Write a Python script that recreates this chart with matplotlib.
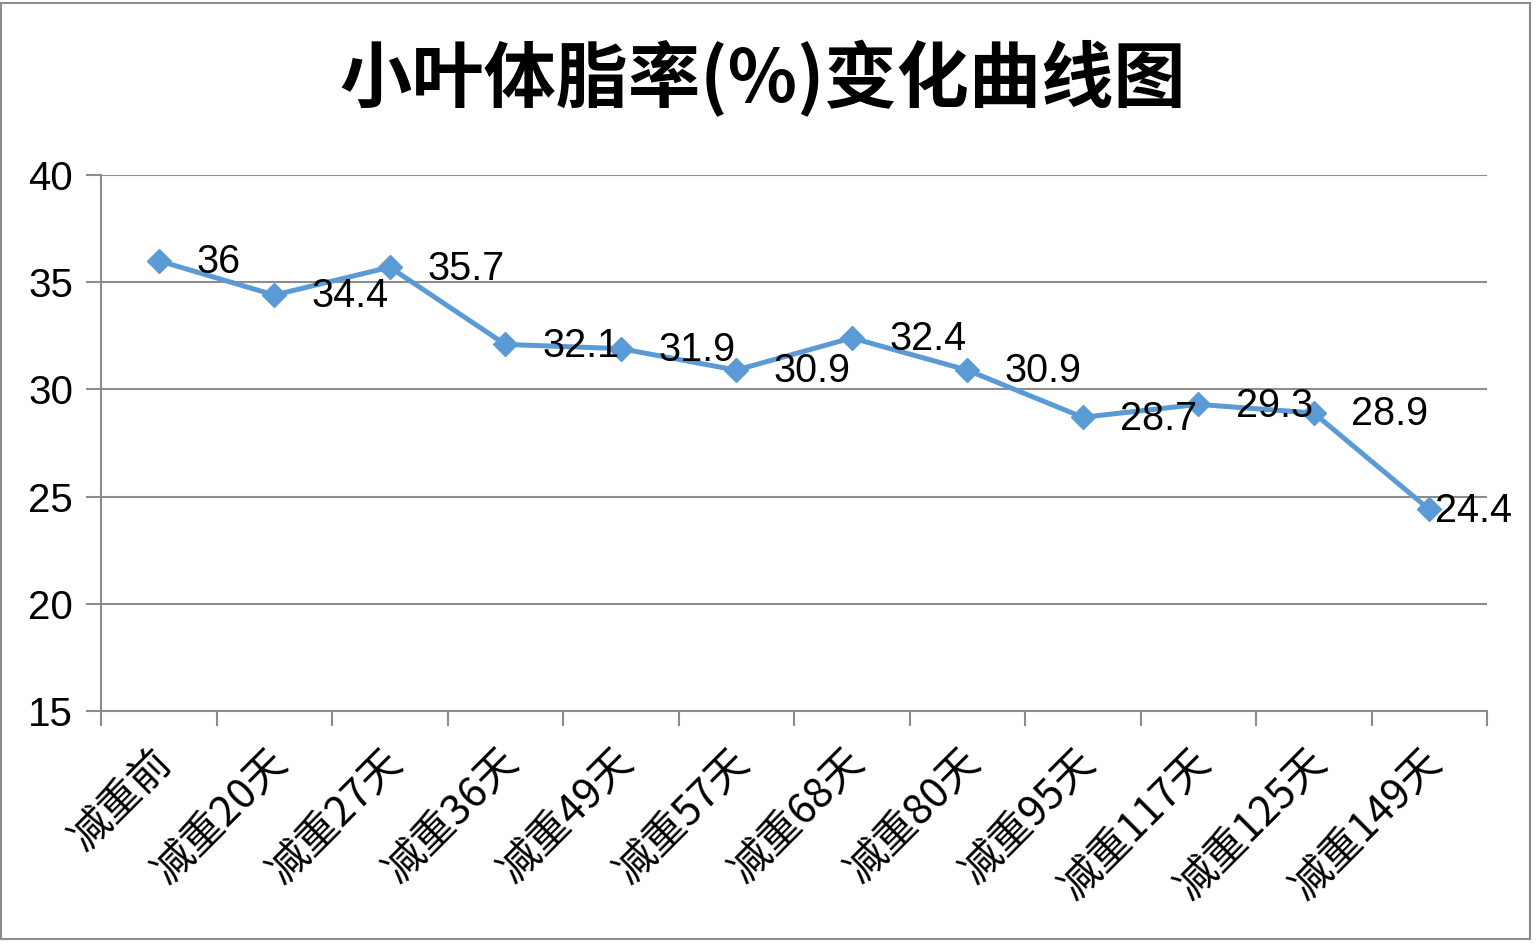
import matplotlib
matplotlib.use("Agg")
import matplotlib.pyplot as plt
from matplotlib.patches import Rectangle
import matplotlib.transforms as mtransforms

categories = ['减重前', '减重20天', '减重27天', '减重36天', '减重49天', '减重57天',
              '减重68天', '减重80天', '减重95天', '减重117天', '减重125天', '减重149天']
values = [36, 34.4, 35.7, 32.1, 31.9, 30.9, 32.4, 30.9, 28.7, 29.3, 28.9, 24.4]
value_labels = ['36', '34.4', '35.7', '32.1', '31.9', '30.9', '32.4', '30.9',
                '28.7', '29.3', '28.9', '24.4']
yticks = [15, 20, 25, 30, 35, 40]

plt.rcParams['font.family'] = ['Liberation Sans', 'Noto Sans CJK SC', 'DejaVu Sans']

grey = '#8c8c8c'
blue = '#5b9bd5'

fig = plt.figure(figsize=(15.36, 9.48), dpi=100)
ax = fig.add_axes([101 / 1536, 1 - 711 / 948, (1487 - 101) / 1536, (711 - 175) / 948])

x = list(range(len(categories)))
ax.plot(x, values, color=blue, linewidth=3.6, marker='D', markersize=12,
        markerfacecolor=blue, markeredgecolor=blue, zorder=3)

for xi, v, lab in zip(x, values, value_labels):
    # the last label sits tight against its marker so it fits inside the frame
    dx = 4 if xi == len(x) - 1 else 27
    ax.annotate(lab, xy=(xi, v), xytext=(dx, -1), textcoords='offset points',
                ha='left', va='center', fontsize=28.5, color='black', zorder=4)

ax.set_xlim(-0.5, len(categories) - 0.5)
ax.set_ylim(15, 40)

# y axis: grid lines and ticks
ax.set_yticks(yticks)
ax.set_yticklabels([str(t) for t in yticks], fontsize=29)
ax.tick_params(axis='y', length=11, width=1.5, color=grey, pad=9)
for t in yticks[1:]:
    ax.axhline(t, color=grey, linewidth=1.5, zorder=1)

# x axis: ticks between categories, labels at centres
ax.set_xticks([i - 0.5 for i in range(len(categories) + 1)])
ax.set_xticklabels([])
ax.tick_params(axis='x', length=11, width=1.5, color=grey)
ax.set_xticks(x, minor=True)
ax.set_xticklabels(categories, minor=True, rotation=45, ha='right', va='top',
                   rotation_mode='anchor', fontsize=30,
                   family=['Noto Sans CJK SC', 'DejaVu Sans'])
ax.tick_params(axis='x', which='minor', length=0, pad=22)
offset = mtransforms.ScaledTranslation(-8 / 100, 0, fig.dpi_scale_trans)
for lbl in ax.get_xticklabels(minor=True):
    lbl.set_transform(lbl.get_transform() + offset)

for side in ['top', 'right']:
    ax.spines[side].set_visible(False)
for side in ['left', 'bottom']:
    ax.spines[side].set_color(grey)
    ax.spines[side].set_linewidth(1.5)

fig.text(763 / 1536, 1 - 80 / 948, '小叶体脂率(%)变化曲线图', ha='center', va='center',
         fontsize=52, fontweight='bold', family=['Noto Sans CJK SC', 'DejaVu Sans'])

fig.patches.append(Rectangle((1 / 1536, 1 - 939 / 948), 1529 / 1536, 936 / 948,
                             transform=fig.transFigure, fill=False,
                             edgecolor=grey, linewidth=1.5))

fig.savefig('out.png', dpi=100)
